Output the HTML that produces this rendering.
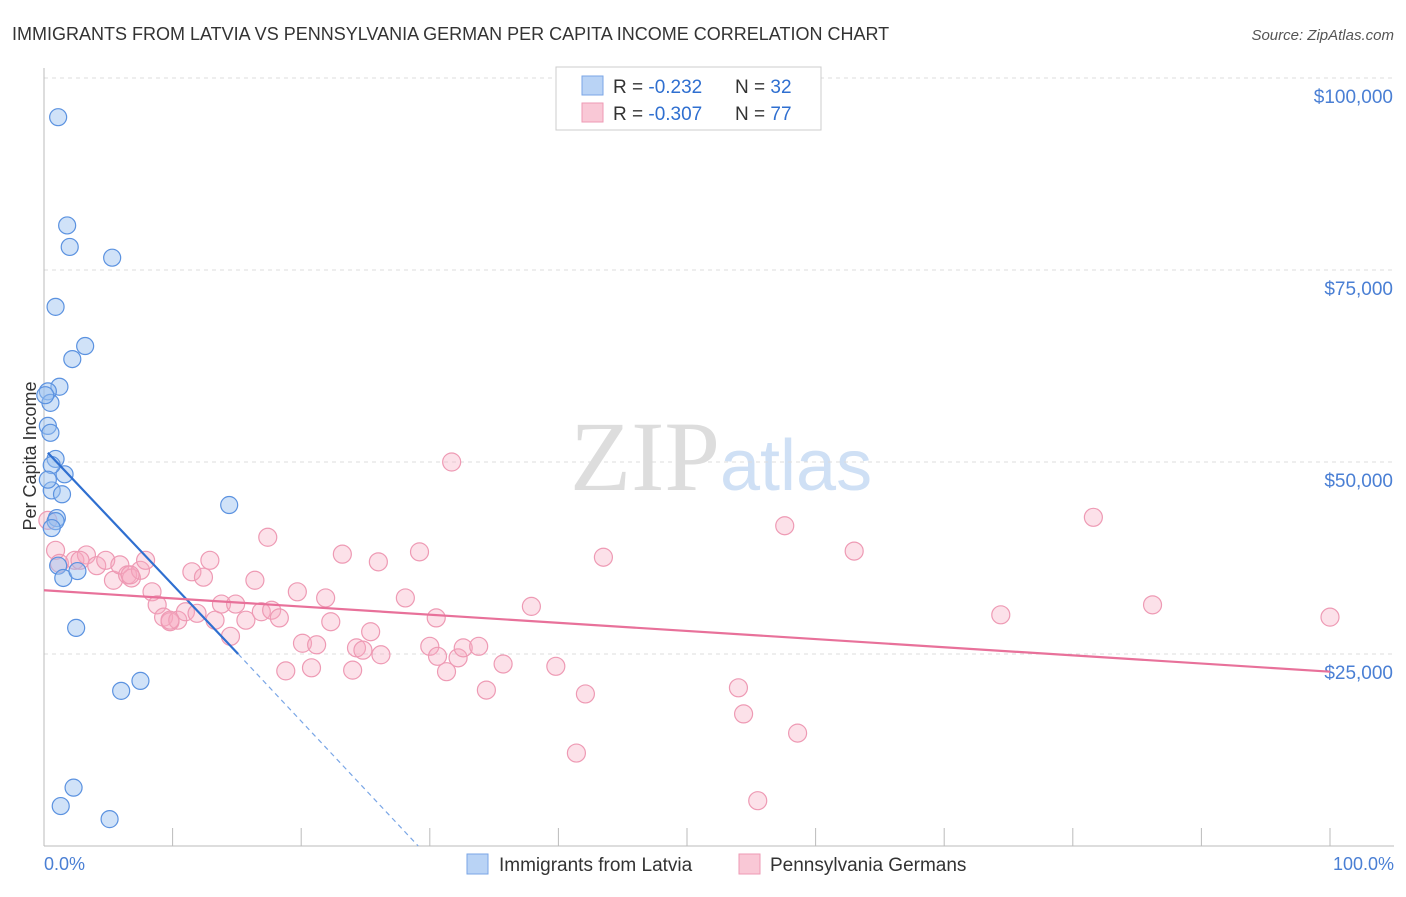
<!DOCTYPE html>
<html><head><meta charset="utf-8"><style>
body{margin:0;background:#fff;font-family:"Liberation Sans",sans-serif;}
</style></head><body>
<svg width="1406" height="892" xmlns="http://www.w3.org/2000/svg">
<text x="12" y="40" font-size="18" fill="#333">IMMIGRANTS FROM LATVIA VS PENNSYLVANIA GERMAN PER CAPITA INCOME CORRELATION CHART</text>
<text x="1394" y="40" font-size="15" fill="#555" font-style="italic" text-anchor="end">Source: ZipAtlas.com</text>
<text x="720" y="490" font-size="100" fill="#ddd" text-anchor="end" font-family="Liberation Serif">ZIP</text>
<text x="720" y="490" font-size="72" fill="#cfe0f5">atlas</text>
<g id="grid"></g>
<line x1="44" y1="68" x2="44" y2="846" stroke="#bbb"/>
<line x1="44" y1="846" x2="1394" y2="846" stroke="#bbb"/>
<text x="36" y="456" font-size="18" fill="#333" text-anchor="middle" transform="rotate(-90 36 456)">Per Capita Income</text>
<text x="44" y="870" font-size="18" fill="#4a7fd4">0.0%</text>
<text x="1394" y="870" font-size="18" fill="#4a7fd4" text-anchor="end">100.0%</text>
<g id="pts"></g>
<g id="lines"></g>
<g>
<rect x="556" y="67" width="265" height="63" fill="#fff" stroke="#ccc"/>
<rect x="582" y="76" width="21" height="19" fill="#b9d3f5" stroke="#7aa6e6"/>
<rect x="582" y="103" width="21" height="19" fill="#f9c8d6" stroke="#ee9ab4"/>
<text x="613" y="93" font-size="19" fill="#333">R = <tspan fill="#2f6fd0">-0.232</tspan><tspan x="735">N = </tspan><tspan fill="#2f6fd0">32</tspan></text>
<text x="613" y="120" font-size="19" fill="#333">R = <tspan fill="#2f6fd0">-0.307</tspan><tspan x="735">N = </tspan><tspan fill="#2f6fd0">77</tspan></text>
</g>
<g>
<rect x="467" y="854" width="21" height="20" fill="#b9d3f5" stroke="#7aa6e6"/>
<text x="499" y="871" font-size="19" fill="#333">Immigrants from Latvia</text>
<rect x="739" y="854" width="21" height="20" fill="#f9c8d6" stroke="#ee9ab4"/>
<text x="770" y="871" font-size="19" fill="#333">Pennsylvania Germans</text>
</g>
</svg>
<script>
const yTicks=[25000,50000,75000,100000];
const yTickLabels=["$25,000","$50,000","$75,000","$100,000"];
const xTicks=[0,10,20,30,40,50,60,70,80,90,100];
const blueX=[1.1,1.8,2.0,5.3,0.9,3.2,2.2,1.2,0.3,0.5,0.3,0.5,0.9,1.6,0.6,1.4,1.0,0.9,0.6,1.1,1.5,2.6,2.5,6.0,7.5,14.4,2.3,1.3,5.1,0.6,0.3,0.1];
const blueY=[94900,80800,78000,76600,70200,65100,63400,59800,59200,57700,54700,53800,50400,48400,46300,45800,42700,42300,41400,36500,34900,35800,28400,20200,21500,44400,7600,5200,3500,49600,47700,58700];
const pinkX=[0.9,1.2,2.4,3.3,4.1,4.8,5.4,5.9,6.5,6.8,7.5,7.9,8.4,8.8,9.3,9.8,10.4,11.0,11.5,11.9,12.4,12.9,13.3,13.8,14.5,14.9,15.7,16.4,16.9,17.4,17.7,18.3,18.8,19.7,20.1,20.8,21.2,21.9,22.3,23.2,24.0,24.3,24.8,25.4,26.0,26.2,28.1,29.2,30.0,30.5,30.6,31.3,31.7,32.2,32.6,33.8,34.4,35.7,37.9,39.8,42.1,41.4,43.5,54.0,54.4,55.5,57.6,58.6,63.0,74.4,81.6,86.2,100,9.8,6.7,2.8,0.3];
const pinkY=[38500,36800,37200,37900,36500,37200,34600,36600,35300,34900,35900,37200,33100,31400,29800,29200,29400,30500,35700,30300,35000,37200,29400,31500,27300,31500,29400,34600,30500,40200,30700,29700,22800,33100,26400,23200,26200,32300,29200,38000,22900,25800,25500,27900,37000,24900,32300,38300,26000,29700,24700,22700,50000,24500,25800,26000,20300,23700,31200,23400,19800,12100,37600,20600,17200,5900,41700,14700,38400,30100,42800,31400,29800,29400,35300,37200,42400];
const blueTrend=[[0.3,51200],[15.1,25000],[29.1,0]];
const pinkTrend=[[0,33300],[100,22700]];
const sx=v=>44+v*12.86, sy=v=>846-v*192/25000;
const NS="http://www.w3.org/2000/svg";
function mk(t,a,p){const e=document.createElementNS(NS,t);for(const k in a)e.setAttribute(k,a[k]);p.appendChild(e);return e;}
const grid=document.getElementById('grid');
yTicks.forEach((v,i)=>{
 const l=mk('line',{x1:44,x2:1394,y1:sy(v),y2:sy(v),stroke:'#ddd','stroke-dasharray':'4,4'},grid);
 
 
 const t=mk('text',{x:1393,y:sy(v)+25,'font-size':19,fill:'#4a7fd4','text-anchor':'end'},grid);
 t.textContent=yTickLabels[i];
 
 
});
xTicks.forEach(v=>{
 const l=mk('line',{x1:sx(v),x2:sx(v),y1:828,y2:846,stroke:'#bbb'},grid);
 
 
});
const pts=document.getElementById('pts');
pinkX.forEach((x,i)=>{
 const c=mk('circle',{cx:sx(x),cy:sy(pinkY[i]),r:9,fill:'rgba(246,170,192,0.35)',stroke:'#ee9ab4','stroke-width':1.2},pts);
 
 
});
blueX.forEach((x,i)=>{
 const c=mk('circle',{cx:sx(x),cy:sy(blueY[i]),r:8.5,fill:'rgba(150,190,240,0.45)',stroke:'#5b92e0','stroke-width':1.2},pts);
 
 
});
const lines=document.getElementById('lines');
let b=mk('line',{x1:sx(blueTrend[0][0]),y1:sy(blueTrend[0][1]),x2:sx(blueTrend[1][0]),y2:sy(blueTrend[1][1]),stroke:'#2f6fd0','stroke-width':2.2},lines);


let bd=mk('line',{x1:sx(blueTrend[1][0]),y1:sy(blueTrend[1][1]),x2:sx(blueTrend[2][0]),y2:sy(blueTrend[2][1]),stroke:'#7aa6e6','stroke-width':1.2,'stroke-dasharray':'5,4'},lines);


let p=mk('line',{x1:sx(pinkTrend[0][0]),y1:sy(pinkTrend[0][1]),x2:sx(pinkTrend[1][0]),y2:sy(pinkTrend[1][1]),stroke:'#e8719a','stroke-width':2.2},lines);


</script>
</body></html>
